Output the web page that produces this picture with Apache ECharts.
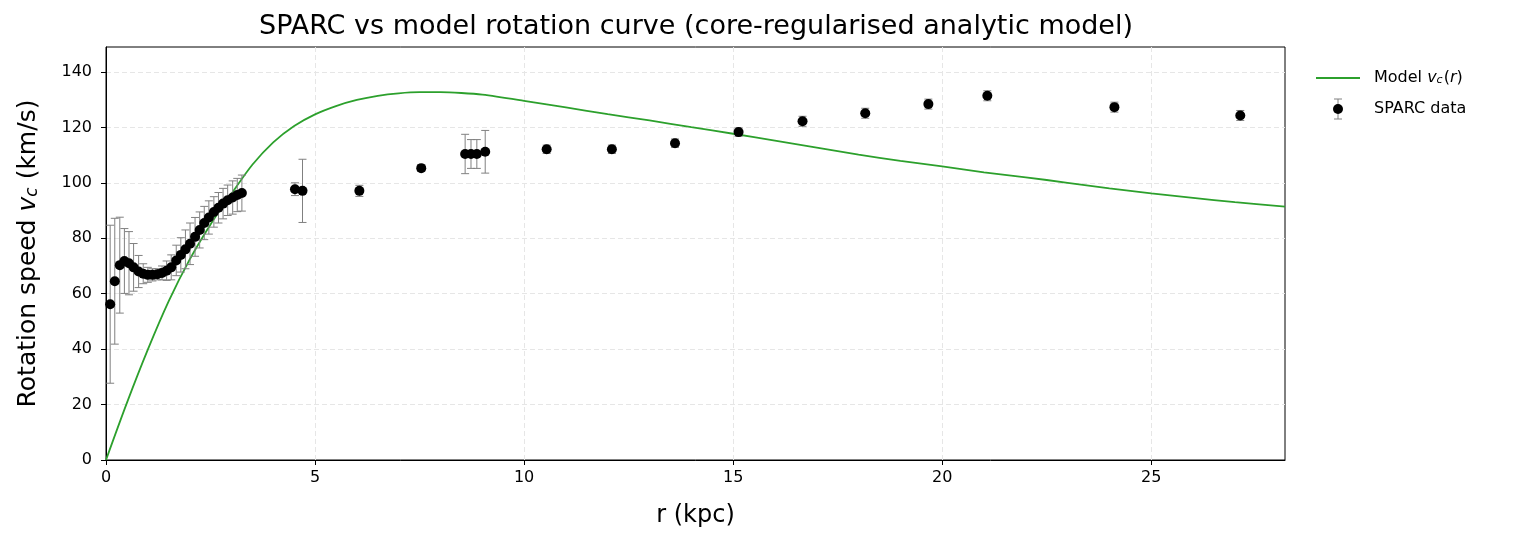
<!DOCTYPE html>
<html>
<head>
<meta charset="utf-8">
<title>SPARC rotation curve</title>
<script src="https://cdn.jsdelivr.net/npm/echarts@6/dist/echarts.min.js"></script>
<style>
  html, body { margin: 0; padding: 0; background: #fff; }
  #chart { width: 1517px; height: 542px; }
</style>
</head>
<body>
<div id="chart"></div>
<script>
  // model curve v_c(r)
  var modelR = [0, 0.5, 1.0, 1.5, 2.0, 2.5, 3.0, 3.5, 4.0, 4.5, 5.0, 5.5, 6.0, 6.5, 7.0, 7.5, 8.0, 8.5, 9.0, 10, 11, 12, 13, 14, 15, 16, 17, 18, 19, 20, 21, 22, 23, 24, 25, 26, 27, 28.2]
  var modelV = [0, 20.6, 39.8, 57.3, 72.3, 85.0, 96.0, 106.5, 114.6, 120.5, 124.7, 127.7, 129.9, 131.4, 132.3, 132.7, 132.7, 132.4, 131.8, 129.6, 127.2, 124.8, 122.5, 120.1, 117.7, 115.2, 112.7, 110.2, 107.9, 105.9, 103.8, 102.0, 100.0, 98.0, 96.2, 94.6, 93.0, 91.4]

  // SPARC points: radius (kpc), speed (km/s), error (km/s)
  var dataR = [0.10, 0.21, 0.33, 0.44, 0.55, 0.66, 0.78, 0.89, 1.00, 1.11, 1.23, 1.34, 1.45, 1.56, 1.68, 1.79, 1.90, 2.01, 2.13, 2.24, 2.35, 2.46, 2.58, 2.69, 2.80, 2.91, 3.03, 3.14, 3.25,
    4.52, 4.70, 6.06, 7.54, 8.59, 8.73, 8.87, 9.07, 10.54, 12.10, 13.61, 15.13, 16.66, 18.16, 19.67, 21.08, 24.12, 27.13]
  var dataV = [56.2, 64.5, 70.3, 71.8, 71.0, 69.5, 68.0, 67.2, 66.8, 66.8, 67.0, 67.5, 68.3, 69.5, 72.0, 74.0, 76.0, 78.0, 80.5, 83.0, 85.5, 87.5, 89.5, 91.0, 92.5, 93.7, 94.7, 95.6, 96.3,
    97.7, 97.1, 97.1, 105.3, 110.4, 110.4, 110.4, 111.2, 112.1, 112.1, 114.3, 118.3, 122.2, 125.1, 128.4, 131.4, 127.3, 124.3]
  var dataErr = [28.5, 22.7, 17.3, 11.7, 11.4, 8.6, 5.8, 3.6, 2.7, 2.2, 2.0, 2.5, 3.5, 4.5, 5.5, 6.2, 7.0, 7.5, 7.0, 6.5, 6.0, 6.0, 5.5, 5.5, 5.5, 5.5, 6.0, 6.0, 6.5,
    2.3, 11.4, 2.0, 1.2, 7.1, 5.2, 5.2, 7.7, 1.5, 1.5, 1.5, 1.5, 1.8, 1.8, 1.8, 1.8, 1.8, 1.8]

  var xTicks = [0, 5, 10, 15, 20, 25]
  var yTicks = [0, 20, 40, 60, 80, 100, 120, 140]

  var FONT = 'DejaVu Sans'
  var gridCol = '#e6e6e6'

  var modelData = modelR.map(function (r, i) { return [r, modelV[i]] })
  var pointData = dataR.map(function (r, i) { return [r, dataV[i]] })
  var errData = dataR.map(function (r, i) { return [r, dataV[i], dataErr[i]] })

  var chart = echarts.init(document.getElementById('chart'))

  chart.setOption({
    animation: false,
    backgroundColor: '#fff',
    textStyle: { fontFamily: FONT },
    title: {
      text: 'SPARC vs model rotation curve (core-regularised analytic model)',
      left: 691,
      top: 8,
      textAlign: 'center',
      textStyle: { fontFamily: FONT, fontSize: 27, fontWeight: 'normal', color: '#000' }
    },
    grid: {
      left: 106, right: 232, top: 47, bottom: 82,
      show: true, borderColor: '#000', borderWidth: 1
    },
    legend: {
      orient: 'vertical',
      left: 1316,
      top: 70,
      padding: 0,
      itemWidth: 44,
      itemHeight: 10,
      itemGap: 15,
      data: [
        { name: 'model', icon: 'path://M0,0 L44,0 L44,2 L0,2 Z' },
        { name: 'SPARC data', icon: 'circle' }
      ],
      formatter: function (name) {
        if (name === 'model') return 'Model {i|v}{s|c}{n|(}{i|r}{n|)}'
        return name
      },
      textStyle: {
        fontFamily: FONT, fontSize: 16, color: '#000', padding: [0, 0, 0, 9],
        rich: {
          i: { fontFamily: FONT, fontSize: 16, fontStyle: 'italic', color: '#000' },
          s: { fontFamily: FONT, fontSize: 11, fontStyle: 'italic', color: '#000', verticalAlign: 'bottom', padding: [0, 1, 0, 0] },
          n: { fontFamily: FONT, fontSize: 16, color: '#000' }
        }
      }
    },
    graphic: [
      // error-bar part of the legend marker
      { type: 'line', z: 1, shape: { x1: 1338, y1: 99, x2: 1338, y2: 119 }, style: { stroke: '#808080', lineWidth: 1 } },
      { type: 'line', z: 1, shape: { x1: 1334, y1: 99, x2: 1342, y2: 99 }, style: { stroke: '#808080', lineWidth: 1 } },
      { type: 'line', z: 1, shape: { x1: 1334, y1: 119, x2: 1342, y2: 119 }, style: { stroke: '#808080', lineWidth: 1 } }
    ],
    xAxis: {
      type: 'value',
      min: 0,
      max: 28.2,
      interval: 5,
      name: 'r (kpc)',
      nameLocation: 'middle',
      nameGap: 44,
      nameTextStyle: { fontFamily: FONT, fontSize: 24, color: '#000' },
      axisLine: { show: true, lineStyle: { color: '#000', width: 1 } },
      axisTick: { show: true, customValues: xTicks, length: 5, lineStyle: { color: '#000' } },
      axisLabel: { customValues: xTicks, fontFamily: FONT, fontSize: 16, color: '#000', margin: 10 },
      splitLine: { show: true, lineStyle: { color: gridCol, type: [5, 3], width: 1 } }
    },
    yAxis: {
      type: 'value',
      min: 0,
      max: 149,
      interval: 20,
      name: 'Rotation speed {i|v}{s|c} (km/s)',
      nameLocation: 'middle',
      nameRotate: 90,
      nameGap: 65,
      nameTextStyle: {
        fontFamily: FONT, fontSize: 25, color: '#000',
        rich: {
          i: { fontFamily: FONT, fontSize: 25, fontStyle: 'italic', color: '#000' },
          s: { fontFamily: FONT, fontSize: 17, fontStyle: 'italic', color: '#000', verticalAlign: 'bottom' }
        }
      },
      axisLine: { show: true, lineStyle: { color: '#000', width: 1 } },
      axisTick: { show: true, customValues: yTicks, length: 5, lineStyle: { color: '#000' } },
      axisLabel: { customValues: yTicks, fontFamily: FONT, fontSize: 16, color: '#000', margin: 14 },
      splitLine: { show: true, lineStyle: { color: gridCol, type: [5, 3], width: 1 } }
    },
    series: [
      {
        name: 'model',
        type: 'line',
        data: modelData,
        smooth: 0.3,
        showSymbol: false,
        color: '#2ca02c',
        lineStyle: { color: '#2ca02c', width: 1.8 },
        z: 2
      },
      {
        name: 'errors',
        type: 'custom',
        data: errData,
        encode: { x: 0, y: 1 },
        z: 3,
        renderItem: function (params, api) {
          var r = api.value(0), v = api.value(1), e = api.value(2)
          var top = api.coord([r, v + e])
          var bot = api.coord([r, v - e])
          var cap = 4
          var st = { stroke: '#808080', lineWidth: 1 }
          return {
            type: 'group',
            children: [
              { type: 'line', shape: { x1: top[0], y1: top[1], x2: bot[0], y2: bot[1] }, style: st },
              { type: 'line', shape: { x1: top[0] - cap, y1: top[1], x2: top[0] + cap, y2: top[1] }, style: st },
              { type: 'line', shape: { x1: bot[0] - cap, y1: bot[1], x2: bot[0] + cap, y2: bot[1] }, style: st }
            ]
          }
        }
      },
      {
        name: 'SPARC data',
        type: 'scatter',
        data: pointData,
        symbol: 'circle',
        symbolSize: 10,
        color: '#000',
        itemStyle: { color: '#000', opacity: 1 },
        z: 4
      }
    ]
  })
</script>
</body>
</html>
